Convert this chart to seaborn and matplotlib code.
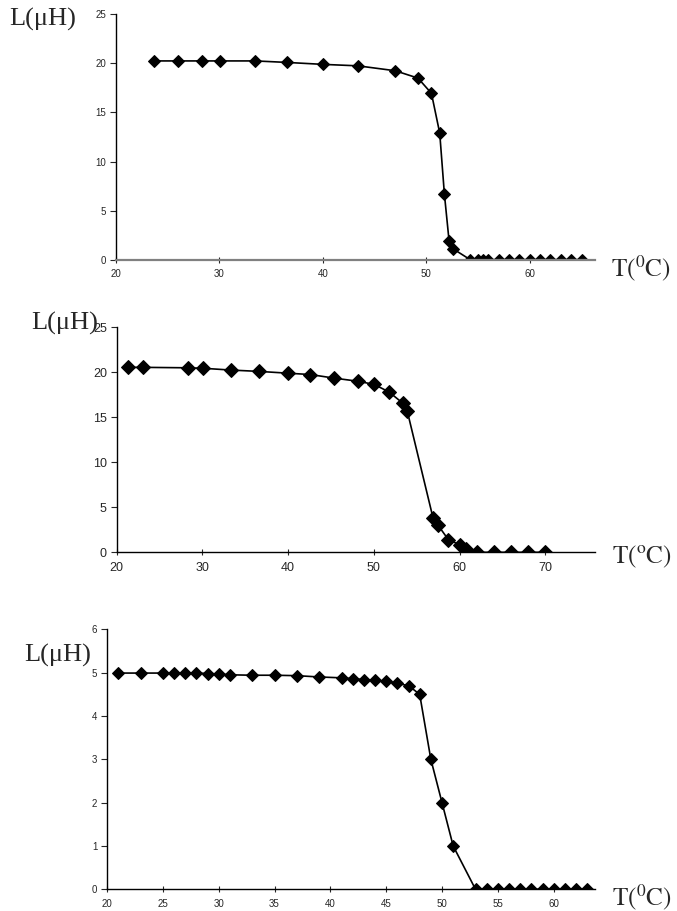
import matplotlib
matplotlib.use("Agg")
import matplotlib.pyplot as plt
import seaborn as sns
import pandas as pd

# Panel 1 data
t1 = [23.7, 26.0, 28.3, 30.1, 33.5, 36.5, 40.0, 43.4, 47.0, 49.2, 50.5, 51.3, 51.75,
      52.2, 52.6, 54.25, 55.0, 55.5, 56.0, 57.0, 58.0, 59.0, 60.0, 61.0, 62.0, 63.0,
      64.0, 65.0]
l1 = [20.25, 20.25, 20.25, 20.25, 20.25, 20.1, 19.9, 19.75, 19.25, 18.5, 16.95, 12.9,
      6.7, 1.95, 1.1, 0, 0, 0, 0, 0, 0, 0, 0, 0, 0, 0, 0, 0]

# Panel 2 data
t2 = [21.3, 23.1, 28.3, 30.05, 33.3, 36.6, 40.0, 42.6, 45.4, 48.2, 50.05, 51.8, 53.4,
      53.9, 56.9, 57.5, 58.7, 60.0, 60.7, 62.0, 64.0, 66.0, 68.0, 70.0]
l2 = [20.55, 20.55, 20.5, 20.45, 20.25, 20.1, 19.9, 19.75, 19.35, 19.0, 18.65, 17.8,
      16.55, 15.7, 3.85, 3.0, 1.4, 0.85, 0.4, 0, 0, 0, 0, 0]

# Panel 3 data
t3 = [21, 23, 25, 26, 27, 28, 29, 30, 31, 33, 35, 37, 39, 41, 42, 43, 44, 45, 46, 47,
      48, 49, 50, 51, 53, 54, 55, 56, 57, 58, 59, 60, 61, 62, 63]
l3 = [4.99, 4.99, 4.99, 4.99, 4.99, 4.99, 4.98, 4.97, 4.95, 4.94, 4.94, 4.93, 4.9,
      4.88, 4.86, 4.84, 4.82, 4.8, 4.75, 4.7, 4.5, 3.0, 2.0, 1.0, 0, 0, 0, 0, 0, 0, 0,
      0, 0, 0, 0]

sns.set_style("white")
plt.rcParams['font.family'] = ['Liberation Sans', 'DejaVu Sans']
plt.rcParams['mathtext.fontset'] = 'stix'

W, H = 677, 911
fig = plt.figure(figsize=(W / 100, H / 100), dpi=100)

# (left, right, top, bottom) in pixels, xlim, ylim, ticks, tick font size, marker size
panels = [
    dict(t=t1, l=l1, box=(115.7, 595, 14.3, 259.7), xlim=(20, 66.3), ylim=(0, 25),
         xt=range(20, 61, 10), yt=range(0, 26, 5), fs=7, ms=6, bcol='#808080', bw=1.6,
         ylab=(9, 19), xlab=(611, 268), sup='0'),
    dict(t=t2, l=l2, box=(116.6, 595, 327.3, 552.3), xlim=(20, 75.8), ylim=(0, 25),
         xt=range(20, 71, 10), yt=range(0, 26, 5), fs=9, ms=7, bcol='black', bw=1.0,
         ylab=(31, 323), xlab=(612, 557), sup='o'),
    dict(t=t3, l=l3, box=(107, 595, 629.3, 889.3), xlim=(20, 63.7), ylim=(0, 6),
         xt=range(20, 61, 5), yt=range(0, 7, 1), fs=7, ms=6, bcol='black', bw=1.0,
         ylab=(24, 655), xlab=(612, 897), sup='0'),
]

for p in panels:
    left, right, top, bottom = p['box']
    ax = fig.add_axes([left / W, 1 - bottom / H, (right - left) / W, (bottom - top) / H])
    df = pd.DataFrame({'T': p['t'], 'L': p['l']})
    sns.lineplot(data=df, x='T', y='L', ax=ax, color='black', linewidth=1.2,
                 marker='D', markersize=p['ms'], markeredgecolor='black', sort=False)
    ax.set_xlim(*p['xlim'])
    ax.set_ylim(*p['ylim'])
    ax.set_xticks(list(p['xt']))
    ax.set_yticks(list(p['yt']))
    ax.set_xlabel('')
    ax.set_ylabel('')
    for s in ['top', 'right']:
        ax.spines[s].set_visible(False)
    ax.spines['left'].set_color('black')
    ax.spines['left'].set_linewidth(1.0)
    ax.spines['bottom'].set_color(p['bcol'])
    ax.spines['bottom'].set_linewidth(p['bw'])
    ax.tick_params(axis='y', direction='out', length=4, width=0.8, labelsize=p['fs'],
                   left=True, pad=3)
    ax.tick_params(axis='x', direction='inout', length=4, width=0.8, labelsize=p['fs'],
                   bottom=True, pad=5)
    ax.patch.set_alpha(0)
    fig.text(p['ylab'][0] / W, 1 - p['ylab'][1] / H, 'L(μH)', family='Liberation Serif',
             fontsize=19, va='center', ha='left')
    fig.text(p['xlab'][0] / W, 1 - p['xlab'][1] / H,
             r'$\mathrm{T(^{' + p['sup'] + r'}C)}$',
             fontsize=18, va='center', ha='left')

fig.savefig('out.png', dpi=100)
